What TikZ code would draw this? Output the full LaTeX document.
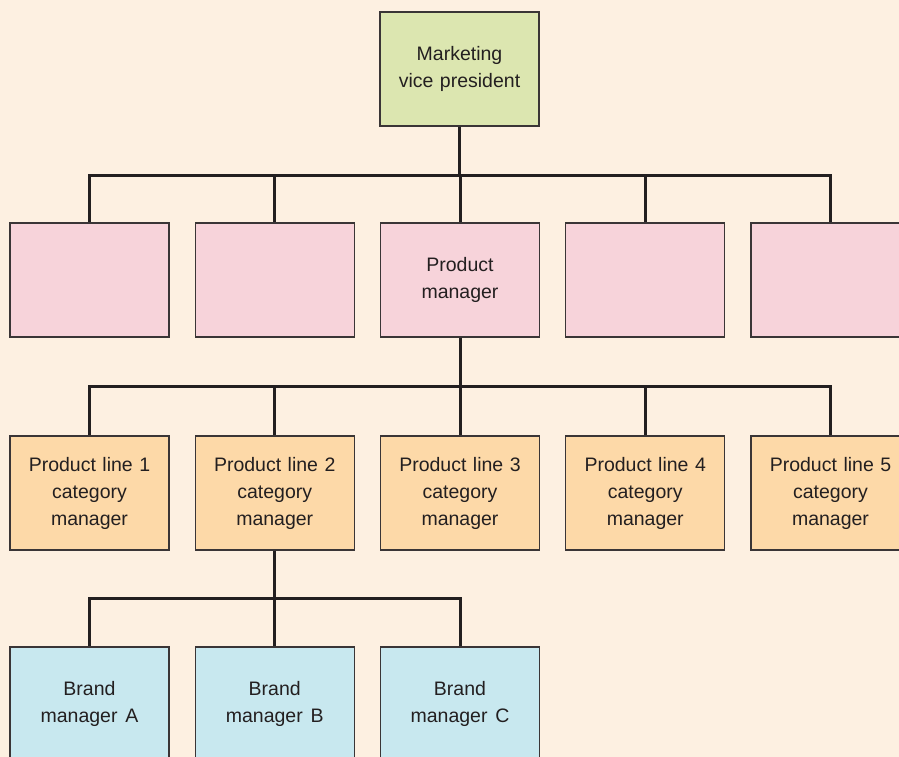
\documentclass[tikz,border=0pt]{standalone}
\usepackage{fontspec}
\setmainfont{Liberation Sans}
\definecolor{bg}{HTML}{FDF0E1}
\definecolor{vpfill}{HTML}{DCE6B0}
\definecolor{pmfill}{HTML}{F7D3DA}
\definecolor{plfill}{HTML}{FDD9A8}
\definecolor{bmfill}{HTML}{C8E8EF}
\definecolor{ink}{HTML}{231F20}
\definecolor{edge}{HTML}{3A3536}
\tikzset{
  orgbox/.style={draw=edge, line width=1.2pt, minimum width=159pt, minimum height=114pt,
    inner sep=0pt, text width=150pt, align=center, text=ink,
    font=\fontsize{19.5}{27}\selectfont},
  vpbox/.style={orgbox, fill=vpfill},
  pmbox/.style={orgbox, fill=pmfill},
  plbox/.style={orgbox, fill=plfill},
  bmbox/.style={orgbox, fill=bmfill},
  link/.style={draw=ink, line width=3pt}
}
\begin{document}
\begin{tikzpicture}[x=1pt,y=-1pt]
\useasboundingbox (0,0) rectangle (899,757);
\clip (0,0) rectangle (899,757);
\fill[bg] (0,0) rectangle (899,757);
\coordinate (busA) at (0,175);
\coordinate (busB) at (0,386);
\coordinate (busC) at (0,598);
% top
\node[vpbox] (vp) at (459.5,69) {Marketing\\vice president};
% row 2
\node[pmbox] (p1) at (89.5,280) {};
\node[pmbox] (p2) at (274.75,280) {};
\node[pmbox] (p3) at (460,280) {Product\\manager};
\node[pmbox] (p4) at (645.25,280) {};
\node[pmbox] (p5) at (830.5,280) {};
% row 3
\node[plbox] (l1) at (89.5,493) {Product line 1\\category\\manager};
\node[plbox] (l2) at (274.75,493) {Product line 2\\category\\manager};
\node[plbox] (l3) at (460,493) {Product line 3\\category\\manager};
\node[plbox] (l4) at (645.25,493) {Product line 4\\category\\manager};
\node[plbox] (l5) at (830.5,493) {Product line 5\\category\\manager};
% row 4
\node[bmbox] (b1) at (89.5,704) {Brand\\manager\hspace{0.4em}A};
\node[bmbox] (b2) at (274.75,704) {Brand\\manager\hspace{0.4em}B};
\node[bmbox] (b3) at (460,704) {Brand\\manager\hspace{0.4em}C};
% connectors
\foreach \c in {p1,p2,p3,p4,p5}
  \draw[link] (vp.south) -- (vp.south |- busA) -| (\c.north);
\foreach \c in {l1,l2,l3,l4,l5}
  \draw[link] (p3.south) -- (p3.south |- busB) -| (\c.north);
\foreach \c in {b1,b2,b3}
  \draw[link] (l2.south) -- (l2.south |- busC) -| (\c.north);
\end{tikzpicture}
\end{document}
